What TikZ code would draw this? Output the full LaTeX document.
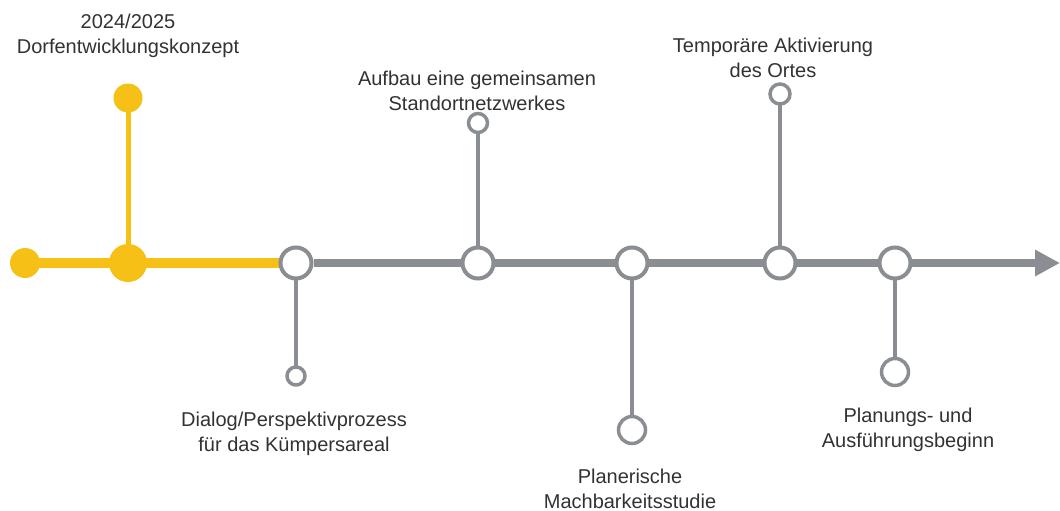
\documentclass[tikz,border=0pt]{standalone}
\usepackage{fontspec}
\setmainfont{Liberation Sans}
\usetikzlibrary{arrows.meta,backgrounds}
\definecolor{ylw}{RGB}{246,192,22}
\definecolor{gry}{RGB}{138,142,146}
\definecolor{txt}{RGB}{50,50,50}
\begin{document}
\begin{tikzpicture}[x=1pt,y=-1pt,
  yfill/.style={circle,fill=ylw,inner sep=0pt,draw=none},
  bigring/.style={circle,draw=gry,line width=4pt,fill=white,inner sep=0pt,minimum size=31pt},
  smallring/.style={circle,draw=gry,line width=3.5pt,fill=white,inner sep=0pt},
  lbl/.style={align=center,text=txt,font=\fontsize{20}{24.5}\selectfont,inner sep=0pt},
  branch/.style={draw=gry,line width=3.5pt},
  ybranch/.style={draw=ylw,line width=5pt}]
\useasboundingbox (0,0) rectangle (1060,511);
% yellow part
\node[yfill,minimum size=30pt] (y0) at (25,263) {};
\node[yfill,minimum size=38pt] (y1) at (128,263) {};
\node[yfill,minimum size=29pt] (y2) at (128,98) {};
% main rings
\node[bigring] (c1) at (296,263) {};
\node[bigring] (c2) at (478,263) {};
\node[bigring] (c3) at (632,263) {};
\node[bigring] (c4) at (780,263) {};
\node[bigring] (c5) at (895,263) {};
\coordinate (tip) at (1060,263);
% branch rings
\node[smallring,minimum size=18pt] (s1) at (296,376) {};
\node[smallring,minimum size=19pt] (s2) at (478,123) {};
\node[smallring,minimum size=27pt] (s3) at (632,430) {};
\node[smallring,minimum size=20pt] (s4) at (780,94) {};
\node[smallring,minimum size=27pt] (s5) at (895,372) {};
% labels
\node[lbl] (t0) at (128,36) {2024/2025\\Dorfentwicklungskonzept};
\node[lbl] (t1) at (294,434) {Dialog/Perspektivprozess\\für das Kümpersareal};
\node[lbl] (t2) at (477,91) {Aufbau eine gemeinsamen\\Standortnetzwerkes};
\node[lbl] (t3) at (630,489) {Planerische\\Machbarkeitsstudie};
\node[lbl] (t4) at (773,58) {Temporäre Aktivierung\\des Ortes};
\node[lbl] (t5) at (908,430) {Planungs- und\\Ausführungsbeginn};
\begin{pgfonlayer}{background}
  \draw[draw=ylw,line width=10pt] (y0.center) -- (c1.center);
  \draw[ybranch] (y1.center) -- (y2.center);
  \draw[draw=gry,line width=8pt,-{Triangle[length=25pt,width=25pt]}] (c1.east) -- (tip);
  \draw[branch] (c1.center) -- (s1.center);
  \draw[branch] (c2.center) -- (s2.center);
  \draw[branch] (c3.center) -- (s3.center);
  \draw[branch] (c4.center) -- (s4.center);
  \draw[branch] (c5.center) -- (s5.center);
\end{pgfonlayer}
\end{tikzpicture}
\end{document}
